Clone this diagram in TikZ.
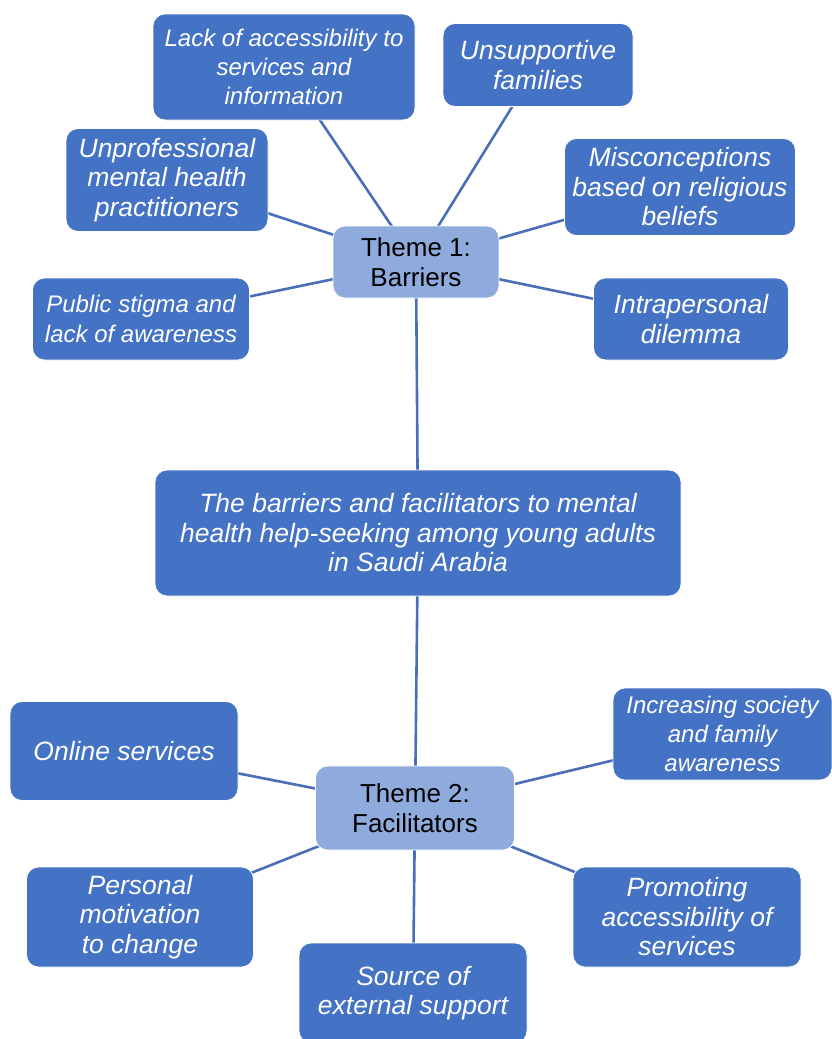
\documentclass[tikz,border=0pt]{standalone}
\usepackage{fontspec}
\setmainfont{Liberation Sans}
\usetikzlibrary{backgrounds}

\definecolor{boxblue}{HTML}{4472C4}
\definecolor{themeblue}{HTML}{8FAADC}
\definecolor{linkblue}{HTML}{4A6FB8}

\tikzset{
  subbox/.style={draw=white, line width=0.8pt, fill=boxblue, rounded corners=12pt, text=white,
    font=\fontsize{26.5}{29.5}\selectfont\itshape, align=center, inner sep=0pt},
  smallbox/.style={subbox, font=\fontsize{24}{29.2}\selectfont\itshape},
  themebox/.style={draw=white, line width=0.8pt, fill=themeblue, rounded corners=12pt, text=black,
    font=\fontsize{26}{30}\selectfont, align=center, inner sep=0pt},
  link/.style={draw=linkblue, line width=2.6pt}
}

\begin{document}
\begin{tikzpicture}[x=1pt,y=-1pt]
\useasboundingbox (0,0) rectangle (832,1039);

% theme 1
\node[themebox, minimum width=166pt, minimum height=72pt] (barriers) at (416,262) {Theme 1:\\Barriers};
\node[smallbox, minimum width=262pt, minimum height=106pt] (access) at (284,67) {Lack of accessibility to\\services and\\information};
\node[subbox, minimum width=190pt, minimum height=83pt] (families) at (538,65) {Unsupportive\\families};
\node[subbox, minimum width=202pt, minimum height=103pt] (practitioners) at (167,180) {Unprofessional\\mental health\\practitioners};
\node[subbox, minimum width=231pt, minimum height=97pt] (religious) at (680,187) {Misconceptions\\based on religious\\beliefs};
\node[smallbox, minimum width=217pt, minimum height=82pt] (stigma) at (141,319) {Public stigma and\\lack of awareness};
\node[subbox, minimum width=195pt, minimum height=82pt] (dilemma) at (691,319) {Intrapersonal\\dilemma};

% centre
\node[subbox, minimum width=526pt, minimum height=126pt] (topic) at (418,533) {The barriers and facilitators to mental\\health help-seeking among young adults\\in Saudi Arabia};

% theme 2
\node[themebox, minimum width=199pt, minimum height=84pt] (facilitators) at (415,808) {Theme 2:\\Facilitators};
\node[subbox, minimum width=228pt, minimum height=99pt] (online) at (124,751) {Online services};
\node[smallbox, minimum width=219pt, minimum height=92pt] (society) at (722.5,734) {Increasing society\\and family\\awareness};
\node[subbox, minimum width=227pt, minimum height=100pt] (motivation) at (140,917) {Personal\\motivation\\to change};
\node[subbox, minimum width=228pt, minimum height=100pt] (promoting) at (687,917) {Promoting\\accessibility of\\services};
\node[subbox, minimum width=228pt, minimum height=100pt] (support) at (413,993) {Source of\\external support};

\begin{scope}[on background layer]
\foreach \n in {access,families,practitioners,religious,stigma,dilemma,topic}
  \draw[link] (barriers.center) -- (\n.center);
\foreach \n in {topic,online,society,motivation,promoting,support}
  \draw[link] (facilitators.center) -- (\n.center);
\end{scope}

\end{tikzpicture}
\end{document}
